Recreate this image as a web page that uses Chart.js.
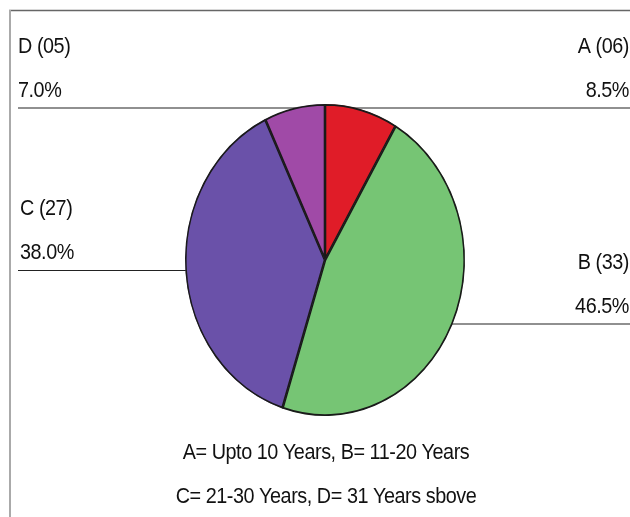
<!DOCTYPE html>
<html>
<head>
<meta charset="utf-8">
<script src="https://cdn.jsdelivr.net/npm/chart.js@4"></script>
<style>
  html, body { margin: 0; padding: 0; background: #fff; }
  #wrap { width: 630px; height: 517px; }
</style>
</head>
<body>
<div id="wrap"><canvas id="chart" width="630" height="517"></canvas></div>
<script>
// ===== data =====
const groups = ['A', 'B', 'C', 'D'];
const counts = [6, 33, 27, 5];
const colors = ['#e01c28', '#76c574', '#6a51a9', '#a04aa7'];
const keyLines = [
    'A= Upto 10 Years, B= 11-20 Years',
    'C= 21-30 Years, D= 31 Years sbove'
];

const total = counts.reduce((a, b) => a + b, 0);
const pct = counts.map(c => (c / total * 100).toFixed(1) + '%');
const tag = i => `${groups[i]} (${String(counts[i]).padStart(2, '0')})`;

const FONT = '22px "Liberation Sans", Arial, sans-serif';
const STRETCH_Y = 156 / 140;   // pie is drawn as an upright ellipse

// narrow text, like the condensed labels of the original figure
function label(ctx, text, x, y, align) {
    ctx.save();
    ctx.translate(x, y);
    ctx.scale(0.9, 1);
    ctx.textAlign = align;
    ctx.fillText(text, 0, 0);
    ctx.restore();
}

// ===== plugins =====

// frame + leader lines, drawn under the pie
const callouts = {
    id: 'callouts',
    beforeDatasetsDraw(chart) {
        const ctx = chart.ctx;
        ctx.save();
        ctx.strokeStyle = '#666';
        ctx.lineWidth = 1.5;
        ctx.beginPath();
        ctx.moveTo(9, 10.5);
        ctx.lineTo(630, 10.5);
        ctx.stroke();
        ctx.strokeStyle = '#aaa';
        ctx.lineWidth = 2;
        ctx.beginPath();
        ctx.moveTo(10, 10);
        ctx.lineTo(10, 517);
        ctx.stroke();

        ctx.strokeStyle = '#222';
        ctx.lineWidth = 1.2;
        [[18, 630, 108], [18, 320, 270.5], [330, 630, 324]].forEach(([x0, x1, y]) => {
            ctx.beginPath();
            ctx.moveTo(x0, y);
            ctx.lineTo(x1, y);
            ctx.stroke();
        });
        ctx.restore();
    },
    afterDraw(chart) {
        const ctx = chart.ctx;
        ctx.save();
        ctx.font = FONT;
        ctx.letterSpacing = '-0.5px';
        ctx.fillStyle = '#111';
        ctx.textBaseline = 'alphabetic';

        // [index, x, first baseline, align]
        [[3, 18, 53, 'left'], [0, 629, 53, 'right'],
         [2, 20, 215, 'left'], [1, 629, 269, 'right']].forEach(([i, x, y, align]) => {
            label(ctx, tag(i), x, y, align);
            label(ctx, pct[i], x, y + 44, align);
        });

        label(ctx, keyLines[0], 326, 459, 'center');
        label(ctx, keyLines[1], 326, 503, 'center');
        ctx.restore();
    }
};

// squash the circle into an ellipse around the pie centre
const ellipse = {
    id: 'ellipse',
    beforeDatasetsDraw(chart) {
        const a = chart.chartArea;
        const cx = (a.left + a.right) / 2;
        const cy = (a.top + a.bottom) / 2;
        const ctx = chart.ctx;
        ctx.save();
        ctx.translate(cx, cy);
        ctx.scale(1, STRETCH_Y);
        ctx.translate(-cx, -cy);
    },
    afterDatasetsDraw(chart) {
        chart.ctx.restore();
    }
};

// ===== chart =====
new Chart(document.getElementById('chart'), {
    type: 'pie',
    data: {
        labels: groups,
        datasets: [{
            data: counts,
            backgroundColor: colors,
            borderColor: '#1a1a1a',
            borderWidth: 1.3,
            borderAlign: 'inner'
        }]
    },
    options: {
        responsive: false,
        animation: false,
        layout: { padding: { left: 185, right: 165, top: 120, bottom: 117 } },
        plugins: {
            legend: { display: false },
            tooltip: { enabled: false }
        }
    },
    plugins: [callouts, ellipse]
});
</script>
</body>
</html>
